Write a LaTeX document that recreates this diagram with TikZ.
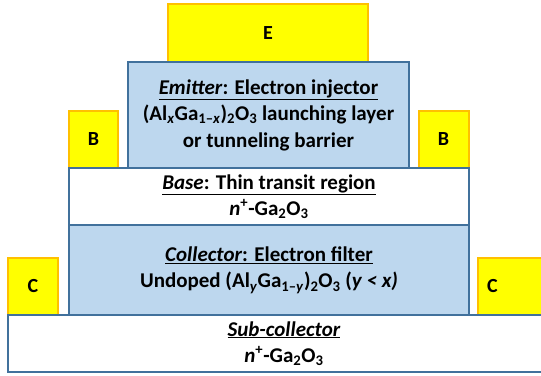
\documentclass[tikz,border=0pt]{standalone}
\usepackage{fontspec}
\setmainfont{Carlito}
\definecolor{layerline}{HTML}{41719C}
\definecolor{layerblue}{HTML}{BDD7EE}
\definecolor{contactfill}{HTML}{FFFF00}
\definecolor{contactline}{HTML}{FFC000}
\tikzset{
  layer/.style={draw=layerline, line width=2pt, rectangle, inner sep=0pt, align=center,
    font=\fontsize{21}{26.5}\selectfont\bfseries},
  contact/.style={draw=contactline, fill=contactfill, line width=2pt, rectangle, inner sep=0pt,
    font=\fontsize{20}{20}\selectfont\bfseries},
}
\begin{document}
\begin{tikzpicture}[x=1pt,y=-1pt]
\clip (0,0) rectangle (541,375);
% contacts
\node[contact, minimum width=200pt, minimum height=58pt] (E) at (268,33) {E};
\node[contact, minimum width=49pt, minimum height=57pt] (BL) at (93.5,139.5) {B};
\node[contact, minimum width=50pt, minimum height=57pt] (BR) at (443.5,139.5) {B};
\node[contact, minimum width=50pt, minimum height=57pt] (CL) at (33,286.5) {C};
\node[contact, minimum width=82pt, minimum height=57pt, text width=64pt, align=left] (CR) at (519,286.5) {C};
% layers
\node[layer, fill=white, minimum width=552pt, minimum height=57pt] (sub) at (284,343.5)
  {\underline{\textit{Sub-collector}}\\ \textit{n}\textsuperscript{+}-Ga\textsubscript{2}O\textsubscript{3}};
\node[layer, fill=layerblue, minimum width=400pt, minimum height=90pt] (col) at (269,270)
  {\underline{\textit{Collector}: Electron filter}\\ Undoped (Al\textsubscript{\textit{y}}Ga\textsubscript{1–\textit{y}})\textsubscript{2}O\textsubscript{3} (\textit{y < x)}};
\node[layer, fill=white, minimum width=400pt, minimum height=57pt] (base) at (269,196.5)
  {\underline{\textit{Base}: Thin transit region}\\ \textit{n}\textsuperscript{+}-Ga\textsubscript{2}O\textsubscript{3}};
\node[layer, fill=layerblue, minimum width=281pt, minimum height=106pt] (emit) at (268.5,115)
  {\underline{\textit{Emitter}: Electron injector}\\ (Al\textsubscript{\textit{x}}Ga\textsubscript{1–\textit{x}})\textsubscript{2}O\textsubscript{3} launching layer\\ or tunneling barrier};
\end{tikzpicture}
\end{document}
